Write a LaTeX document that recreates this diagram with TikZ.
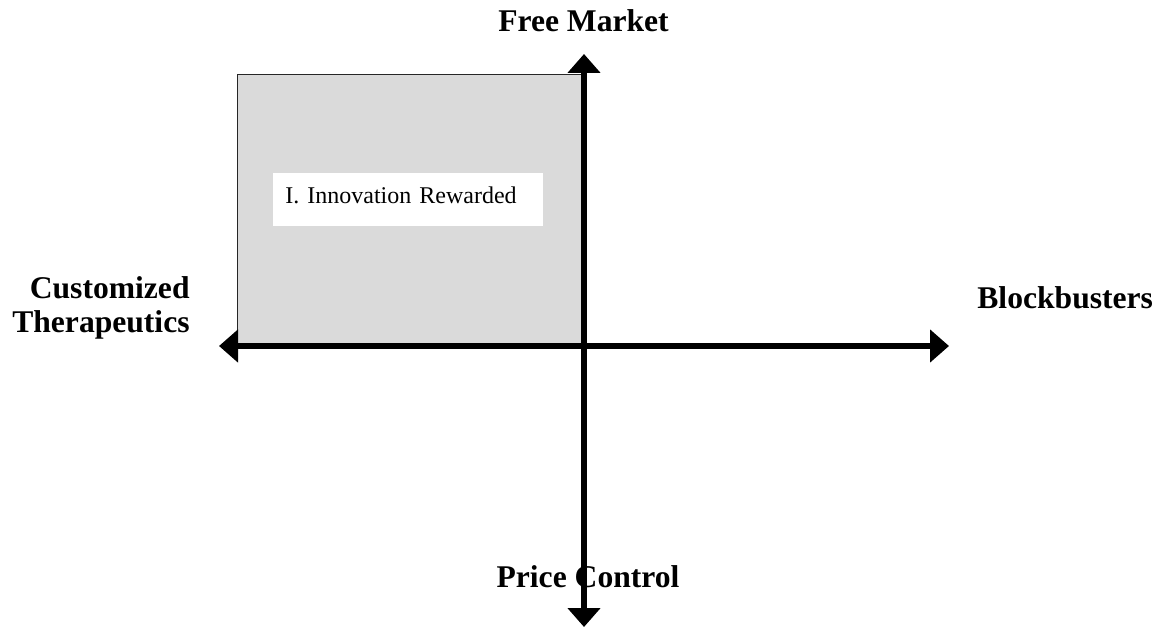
\documentclass[tikz,border=0pt]{standalone}
\usepackage{fontspec}
\setmainfont{Liberation Serif}
\usepackage{tikz}
\usetikzlibrary{positioning, arrows.meta}
\definecolor{quadgray}{RGB}{218,218,218}

\begin{document}
\begin{tikzpicture}[x=0.5pt, y=-0.5pt]
    \tikzstyle{axislabel} = [inner sep=0pt, font=\fontsize{15.8pt}{17pt}\selectfont\bfseries]
    \tikzstyle{quadrant} = [rectangle, draw=black!85, line width=0.7pt, fill=quadgray, minimum width=173.5pt, minimum height=136pt, inner sep=0pt]
    \tikzstyle{tag} = [rectangle, fill=white, minimum width=135pt, inner xsep=6pt, inner ysep=3pt, text height=12pt, text depth=8.5pt, text width=123pt, align=left, font=\fontsize{12pt}{14pt}\selectfont]
    \tikzstyle{axis} = [line width=3pt, {Triangle[length=9.5pt, width=16pt]}-{Triangle[length=9.5pt, width=16pt]}]
    \useasboundingbox (0,0) rectangle (1159,626);

    % shaded first quadrant and its caption
    \node (quad) [quadrant, anchor=north west] at (237,74) {};
    \node (innov) [tag, anchor=north west] at (273,173) {I. Innovation Rewarded};

    % axis ends
    \coordinate (north) at (584,54);
    \coordinate (south) at (584,627);
    \coordinate (west) at (219,346);
    \coordinate (east) at (949,346);

    \node (fm) [axislabel, anchor=base] at (583.5,32) {Free Market};
    \node (pc) [axislabel, anchor=base] at (588,587) {Price Control};
    \node (ct) [axislabel, anchor=base east, align=right] at (190,332) {Customized\\Therapeutics};
    \node (bb) [axislabel, anchor=base west] at (977,308) {Blockbusters};

    \draw [axis] (west) -- (east);
    \draw [axis] (north) -- (south);
\end{tikzpicture}
\end{document}
